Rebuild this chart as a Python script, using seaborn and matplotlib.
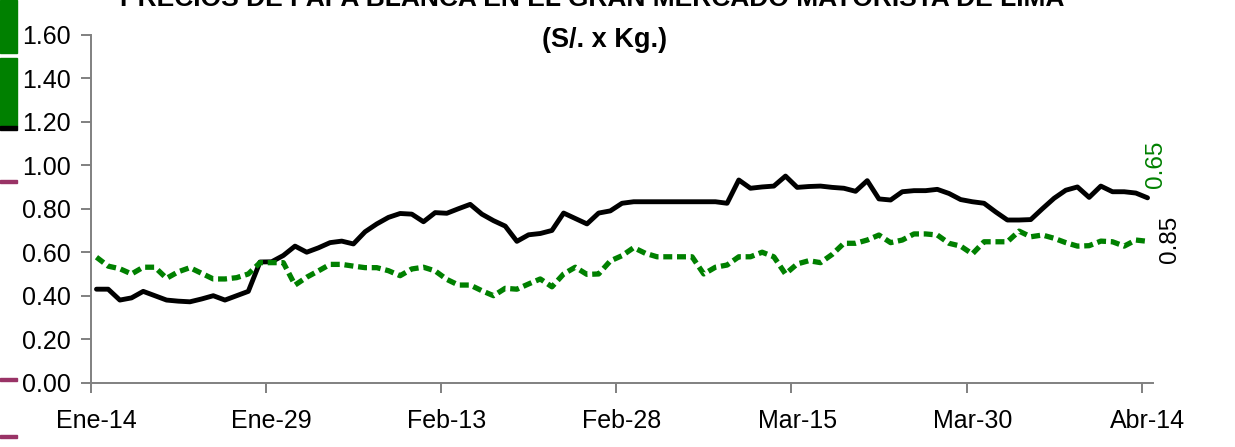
import matplotlib
matplotlib.use("Agg")
import matplotlib.pyplot as plt
import seaborn as sns
import numpy as np
import pandas as pd
from matplotlib.patches import Rectangle

# daily prices, Jan 14 -> Apr 14 2014 (S/. x Kg.)
dias = np.arange(91)
precio_negro = [
    0.43, 0.43, 0.38, 0.39, 0.42, 0.40, 0.38, 0.375, 0.372, 0.385,
    0.40, 0.38, 0.40, 0.42, 0.555, 0.556, 0.585, 0.628, 0.60, 0.62,
    0.644, 0.651, 0.638, 0.694, 0.73, 0.76, 0.778, 0.775, 0.74, 0.782,
    0.779, 0.80, 0.82, 0.775, 0.745, 0.72, 0.65, 0.68, 0.686, 0.70,
    0.78, 0.755, 0.73, 0.78, 0.79, 0.825, 0.832, 0.832, 0.832, 0.832,
    0.832, 0.832, 0.832, 0.832, 0.825, 0.932, 0.894, 0.90, 0.904, 0.95,
    0.898, 0.902, 0.904, 0.898, 0.894, 0.88, 0.929, 0.845, 0.84, 0.878,
    0.883, 0.883, 0.889, 0.87, 0.842, 0.832, 0.825, 0.785, 0.748, 0.748,
    0.75, 0.80, 0.848, 0.885, 0.90, 0.852, 0.904, 0.878, 0.878, 0.872,
    0.85,
]
precio_verde = [
    0.577, 0.536, 0.524, 0.50, 0.531, 0.531, 0.48, 0.51, 0.529, 0.503,
    0.477, 0.477, 0.483, 0.50, 0.552, 0.552, 0.552, 0.449, 0.485, 0.514,
    0.544, 0.544, 0.536, 0.529, 0.529, 0.515, 0.492, 0.523, 0.531, 0.514,
    0.475, 0.449, 0.449, 0.423, 0.40, 0.434, 0.43, 0.454, 0.477, 0.441,
    0.50, 0.531, 0.498, 0.50, 0.56, 0.584, 0.621, 0.595, 0.579, 0.579,
    0.579, 0.579, 0.50, 0.531, 0.541, 0.579, 0.579, 0.60, 0.579, 0.50,
    0.546, 0.561, 0.552, 0.59, 0.641, 0.641, 0.656, 0.679, 0.644, 0.656,
    0.684, 0.684, 0.679, 0.641, 0.628, 0.592, 0.648, 0.648, 0.648, 0.697,
    0.671, 0.679, 0.664, 0.644, 0.628, 0.63, 0.651, 0.648, 0.628, 0.656,
    0.65,
]
etiquetas_x = ["Ene-14", "Ene-29", "Feb-13", "Feb-28", "Mar-15", "Mar-30", "Abr-14"]
pos_x = [0, 15, 30, 45, 60, 75, 90]
valores_y = [0.0, 0.2, 0.4, 0.6, 0.8, 1.0, 1.2, 1.4, 1.6]

df = pd.DataFrame({"dia": dias, "negro": precio_negro, "verde": precio_verde})

sns.set_style("white")
plt.rcParams["font.family"] = ["Liberation Sans", "DejaVu Sans"]
plt.rcParams["text.color"] = "black"

fig = plt.figure(figsize=(12.35, 4.47), dpi=100)
ax = fig.add_axes([0.0734, 0.1438, 0.8605, 0.7786])

verde = "#008000"
gris = "#808080"

sns.lineplot(data=df, x="dia", y="negro", color="black", lw=3.5, ax=ax,
             solid_joinstyle="round", solid_capstyle="round")
sns.lineplot(data=df, x="dia", y="verde", color=verde, lw=3.8, ax=ax,
             linestyle=(0, (1.7, 0.9)), dash_capstyle="butt")

ax.set_xlim(-0.5, 90.5)
ax.set_ylim(0, 1.6)
ax.set_xlabel("")
ax.set_ylabel("")

ax.set_yticks(valores_y)
ax.set_yticklabels([f"{v:.2f}" for v in valores_y], fontsize=18)
ax.set_xticks(pos_x)
ax.set_xticklabels(etiquetas_x, fontsize=18)
ax.set_xticks([p - 0.5 for p in pos_x], minor=True)

ax.tick_params(axis="y", length=7.2, width=1.4, color=gris, pad=7, left=True,
               labelcolor="black")
ax.tick_params(axis="x", which="major", length=0, pad=19, labelcolor="black")
ax.tick_params(axis="x", which="minor", length=7.2, width=1.4, color=gris, bottom=True)

for s in ["top", "right"]:
    ax.spines[s].set_visible(False)
for s in ["left", "bottom"]:
    ax.spines[s].set_color(gris)
    ax.spines[s].set_linewidth(1.4)

# end-of-series value labels
ax.annotate(f"{precio_verde[-1]:.2f}", xy=(dias[-1], precio_verde[-1]),
            xytext=(8, 77), textcoords="offset pixels", rotation=90,
            ha="center", va="center", fontsize=17.5, color=verde)
ax.annotate(f"{precio_negro[-1]:.2f}", xy=(dias[-1], precio_negro[-1]),
            xytext=(22, -42), textcoords="offset pixels", rotation=90,
            ha="center", va="center", fontsize=17.5, color="black")

# title (first line is cut by the top edge, as in the source)
fig.text(592 / 1235, 1 - 6 / 447,
         "PRECIOS DE PAPA BLANCA EN EL GRAN MERCADO MAYORISTA DE LIMA",
         ha="center", va="baseline", fontsize=19, fontweight="bold")
fig.text(605 / 1235, 1 - 47 / 447, "(S/. x Kg.)",
         ha="center", va="baseline", fontsize=19.5, fontweight="bold")

# fragments of the neighbouring legend at the left edge
W, H = 1235, 447
def tira(x0, y0, w, h, c):
    fig.patches.append(Rectangle((x0 / W, 1 - (y0 + h) / H), w / W, h / H,
                                 transform=fig.transFigure, color=c, zorder=5))
tira(0, 0, 17, 53, verde)
tira(0, 58, 17, 68, verde)
tira(0, 126, 17, 4, "black")
for yy in [180, 378, 435]:
    tira(0, yy, 17, 3, "#993366")

fig.savefig("out.png", dpi=100, facecolor="white")
